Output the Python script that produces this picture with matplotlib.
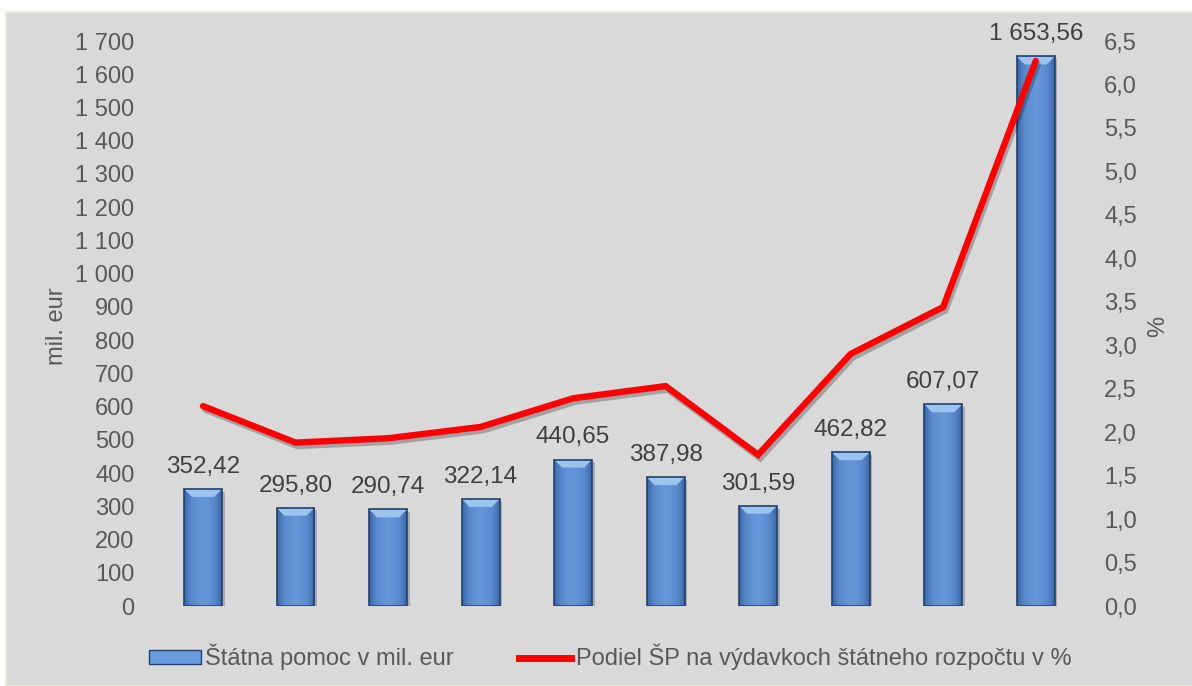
import numpy as np
import matplotlib.pyplot as plt
import matplotlib.patheffects as pe
from matplotlib.colors import LinearSegmentedColormap
from matplotlib.patches import Rectangle, Polygon
from matplotlib.lines import Line2D
from matplotlib.ticker import FuncFormatter

plt.rcParams['font.family'] = ['Liberation Sans', 'DejaVu Sans']

# data (categories are unlabeled in the original chart)
categories = list(range(10))
aid_meur = [352.42, 295.80, 290.74, 322.14, 440.65, 387.98, 301.59, 462.82, 607.07, 1653.56]
share_pct = [2.30, 1.88, 1.93, 2.06, 2.39, 2.53, 1.74, 2.90, 3.44, 6.27]
left_ticks = np.arange(0, 1701, 100)
right_ticks = np.arange(0, 6.51, 0.5)

bar_label = 'Štátna pomoc v mil. eur'
line_label = 'Podiel ŠP na výdavkoch štátneho rozpočtu v %'

BG = '#d9d9d9'
TICK_COLOR = '#595959'
LABEL_COLOR = '#404040'

fig = plt.figure(figsize=(11.92, 6.86), dpi=100, facecolor='white')
fig.patches.append(Rectangle((6 / 1192, 0), 1, 1 - 12 / 686, transform=fig.transFigure,
                             facecolor=BG, edgecolor='#eeece1', linewidth=1.5, zorder=-10))

ax = fig.add_axes([0.1315, 0.1166, 0.7762, 0.8236])
ax.set_facecolor('none')
ax2 = ax.twinx()
ax2.set_facecolor('none')

# bars with a cylinder-like shading
width = 0.41
bars = ax.bar(categories, aid_meur, width=width, color='#4a7cc0', edgecolor='none', zorder=2,
              path_effects=[pe.SimplePatchShadow(offset=(2, -2), alpha=0.25), pe.Normal()])
cmap = LinearSegmentedColormap.from_list('barshade', ['#6697d8', '#5787cb', '#3b66a3'])
grad = np.abs(np.linspace(-1, 1, 128)) ** 1.5
for bar in bars:
    x0 = bar.get_x()
    h = bar.get_height()
    img = ax.imshow(grad[np.newaxis, :], extent=[x0, x0 + width, 0, h], aspect='auto',
                    cmap=cmap, zorder=2.1, interpolation='bilinear')
    img.set_clip_path(bar)
    bevel_h = 24
    inset = 0.085
    ax.add_patch(Polygon([(x0, h), (x0 + width, h), (x0 + width - inset, h - bevel_h),
                          (x0 + inset, h - bevel_h)], closed=True,
                         facecolor='#9cc4ef', edgecolor='none', zorder=2.3))
ax.bar(categories, aid_meur, width=width, fill=False, edgecolor='#22406e', linewidth=1.2, zorder=2.4)

for xi, v in zip(categories, aid_meur):
    txt = f'{v:,.2f}'.replace(',', ' ').replace('.', ',')
    ax.annotate(txt, (xi, v), xytext=(0, 8), textcoords='offset points', ha='center', va='bottom',
                fontsize=17.5, color=LABEL_COLOR, zorder=5)

ax.set_xlim(-0.5, len(categories) - 0.5)
ax.set_ylim(0, 1700)
ax.set_yticks(left_ticks)
ax.yaxis.set_major_formatter(FuncFormatter(lambda v, p: f'{int(v):,}'.replace(',', ' ')))
ax.set_xticks([])
ax.tick_params(axis='y', length=0, pad=16, labelsize=17, labelcolor=TICK_COLOR)

# line on secondary axis
ax2.plot(categories, share_pct, color='#ff0000', linewidth=4.6, solid_capstyle='round',
         solid_joinstyle='miter', zorder=4,
         path_effects=[pe.SimpleLineShadow(offset=(1.5, -2.5), alpha=0.25), pe.Normal()])
ax2.set_ylim(0, 6.5)
ax2.set_yticks(right_ticks)
ax2.yaxis.set_major_formatter(FuncFormatter(lambda v, p: f'{v:.1f}'.replace('.', ',')))
ax2.tick_params(axis='y', length=0, pad=16, labelsize=17, labelcolor=TICK_COLOR)

for a in (ax, ax2):
    for s in a.spines.values():
        s.set_visible(False)

fig.text(57 / 1192, 1 - 326 / 686, 'mil. eur', rotation=90, ha='center', va='center',
         fontsize=17, color=TICK_COLOR)
fig.text(1158 / 1192, 1 - 326 / 686, '%', rotation=90, ha='center', va='center',
         fontsize=17, color=TICK_COLOR)

handles = [Rectangle((0, 0), 1, 1, facecolor='#6a9ddf', edgecolor='#22406e'),
           Line2D([], [], color='#ff0000', linewidth=5)]
fig.legend(handles, [bar_label, line_label], loc='center', ncol=2,
           bbox_to_anchor=(610 / 1192, 1 - 657 / 686), frameon=False, fontsize=17,
           handlelength=2.2, handleheight=0.55, handletextpad=0.2, columnspacing=2.75,
           labelcolor=TICK_COLOR)

fig.savefig('out.png', dpi=100, facecolor='white')
